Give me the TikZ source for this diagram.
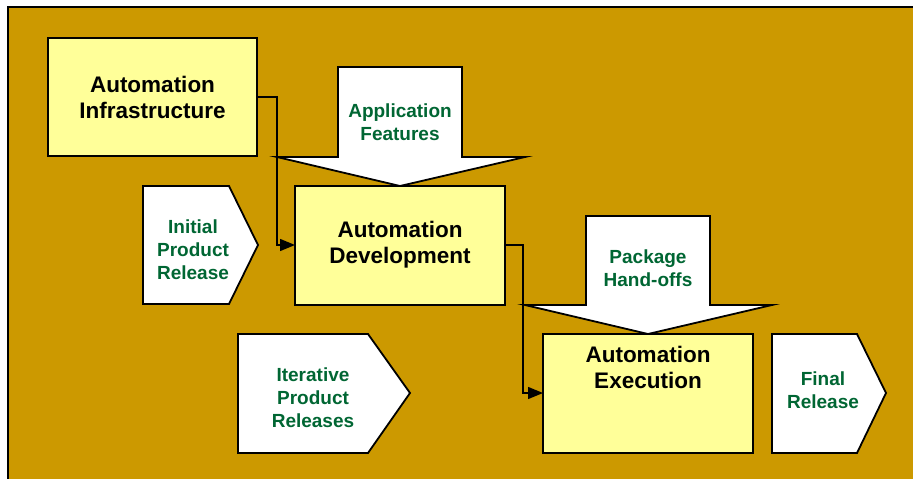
\documentclass[tikz,border=0pt]{standalone}
\usepackage{fontspec}
\setmainfont{Liberation Sans}
\usetikzlibrary{arrows.meta}
\definecolor{gold}{HTML}{CC9900}
\definecolor{paleyellow}{HTML}{FFFF99}
\definecolor{textgreen}{HTML}{006633}
\tikzset{
  ybox/.style={draw=black, line width=1.8pt, fill=paleyellow},
  wshape/.style={draw=black, line width=1.8pt, fill=white, line join=miter},
  blacktext/.style={align=center, font=\fontsize{22.5}{26}\selectfont\bfseries, text=black},
  greentext/.style={align=center, font=\fontsize{19}{23}\selectfont\bfseries, text=textgreen},
  conn/.style={draw=black, line width=1.4pt, -{Triangle[length=15pt,width=12pt]}},
}
\begin{document}
\begin{tikzpicture}[x=1pt,y=-1pt]
\useasboundingbox (0,0) rectangle (913,479);
\clip (0,0) rectangle (913,479);
\fill[white] (0,0) rectangle (913,479);
\draw[fill=gold, line width=1.8pt] (8,7) rectangle (930,500);

% Automation Infrastructure
\draw[ybox] (48,38) rectangle (257,156);
\node[blacktext] (infra) at (152.5,97) {Automation\\Infrastructure};
\coordinate (infraout) at (257,97);

% Application Features arrow
\draw[wshape] (338,67) -- (462,67) -- (462,157) -- (525,157) -- (400,186) -- (277,157) -- (338,157) -- cycle;
\node[greentext] (appfeat) at (400,122) {Application\\Features};

% Initial Product Release
\draw[wshape] (143,186) -- (229,186) -- (258,245) -- (229,304) -- (143,304) -- cycle;
\node[greentext] (initial) at (193,250) {Initial\\Product\\Release};

% Automation Development
\draw[ybox] (295,186) rectangle (505,305);
\node[blacktext] (devel) at (400,245) {Automation\\Development};
\coordinate (develin) at (295,245);
\coordinate (develout) at (505,245);

% Package Hand-offs arrow
\draw[wshape] (586,216) -- (710,216) -- (710,305) -- (772,305) -- (648,334) -- (525,305) -- (586,305) -- cycle;
\node[greentext] (pkg) at (648,268) {Package\\Hand-offs};

% Iterative Product Releases
\draw[wshape] (238,334) -- (368,334) -- (410,393) -- (368,453) -- (238,453) -- cycle;
\node[greentext] (iter) at (313,398) {Iterative\\Product\\Releases};

% Automation Execution
\draw[ybox] (543,334) rectangle (753,453);
\node[blacktext] (exec) at (648,367) {Automation\\Execution};
\coordinate (execin) at (543,393);

% Final Release
\draw[wshape] (772,334) -- (857,334) -- (886,393) -- (857,453) -- (772,453) -- cycle;
\node[greentext] (final) at (823,390) {Final\\Release};

% connectors
\draw[conn] (infraout) -- (277,97) -- (277,245) -- (develin);
\draw[conn] (develout) -- (523,245) -- (523,393) -- (execin);
\end{tikzpicture}
\end{document}
